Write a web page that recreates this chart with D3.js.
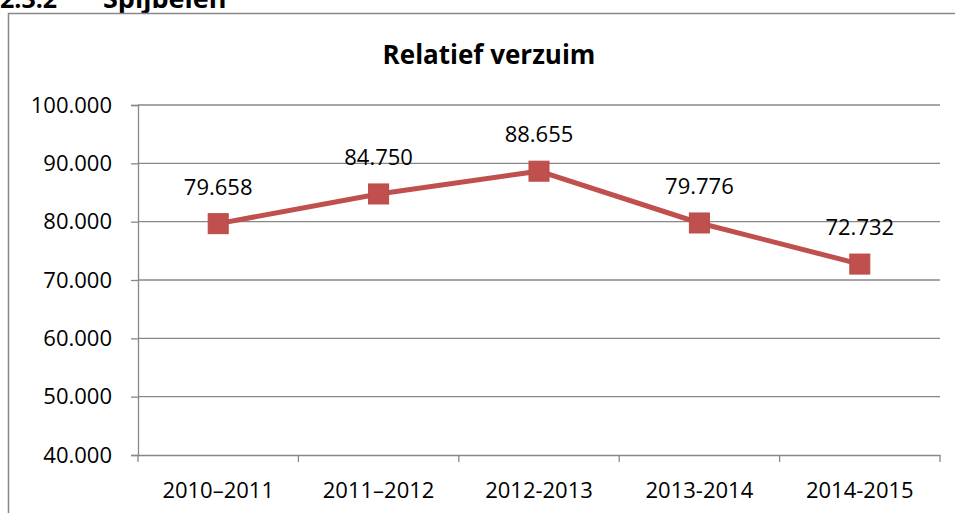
<!DOCTYPE html>
<html>
<head>
<meta charset="utf-8">
<script src="https://cdn.jsdelivr.net/npm/d3@7"></script>
<style>
  body { margin: 0; background: #fff; }
  svg { display: block; }
</style>
</head>
<body>
<div id="chart"></div>
<script>
// data
var seasons = ["2010–2011", "2011–2012", "2012-2013", "2013-2014", "2014-2015"];
var verzuim = [79.658, 84.75, 88.655, 79.776, 72.732];
var yTicks = [40, 50, 60, 70, 80, 90, 100];

var W = 955, H = 513;
var font = "'Open Sans', 'Noto Sans', sans-serif";

var svg = d3.select("#chart")
  .append("svg")
  .attr("width", W)
  .attr("height", H);

// section heading, cut off at the top
svg.append("text")
  .attr("x", 0)
  .attr("y", 8)
  .attr("font-family", font)
  .attr("font-weight", "bold")
  .attr("font-size", 25)
  .attr("fill", "#000")
  .text("2.3.2");
svg.append("text")
  .attr("x", 103)
  .attr("y", 8)
  .attr("font-family", font)
  .attr("font-weight", "bold")
  .attr("font-size", 27)
  .attr("fill", "#000")
  .text("Spijbelen");

// chart border
svg.append("rect")
  .attr("x", 8.5)
  .attr("y", 13.5)
  .attr("width", 960)
  .attr("height", 520)
  .attr("fill", "none")
  .attr("stroke", "#888")
  .attr("stroke-width", 1.5);

// title
svg.append("text")
  .attr("x", 489)
  .attr("y", 64)
  .attr("text-anchor", "middle")
  .attr("font-family", font)
  .attr("font-weight", "bold")
  .attr("font-size", 26)
  .text("Relatief verzuim");

var margin = { left: 138, right: 15, top: 105, bottom: 58 };
var plotW = W - margin.left - margin.right,
  plotH = H - margin.top - margin.bottom;

var g = svg.append("g")
  .attr("transform", "translate(" + margin.left + "," + margin.top + ")");

var x = d3.scaleBand().domain(seasons).range([0, plotW]);
var y = d3.scaleLinear().domain([40, 100]).range([plotH, 0]);

// gridlines
g.selectAll(".grid")
  .data(yTicks.slice(1))
  .enter()
  .append("line")
  .attr("x1", 0)
  .attr("x2", plotW)
  .attr("y1", function (d) { return y(d); })
  .attr("y2", function (d) { return y(d); })
  .attr("stroke", "#888")
  .attr("stroke-width", 1.3);

// y axis
var yAxis = g.append("g")
  .call(d3.axisLeft(y).tickValues(yTicks).tickSize(7)
    .tickFormat(function (d) { return d3.format(".3f")(d); }));
yAxis.select(".domain").attr("stroke", "#888").attr("stroke-width", 1.3);
yAxis.selectAll(".tick line").attr("stroke", "#888").attr("stroke-width", 1.3);
yAxis.selectAll(".tick text")
  .attr("font-family", font)
  .attr("font-size", 22)
  .attr("fill", "#000")
  .attr("x", -26);

// x axis
var xAxis = g.append("g")
  .attr("transform", "translate(0," + plotH + ")")
  .call(d3.axisBottom(x).tickSize(0).tickPadding(27));
xAxis.select(".domain").attr("stroke", "#888").attr("stroke-width", 1.3);
xAxis.selectAll(".tick text")
  .attr("font-family", font)
  .attr("font-size", 22)
  .attr("fill", "#000");

// category boundary ticks
var bounds = seasons.map(function (s) { return x(s); }).concat([plotW]);
xAxis.selectAll(".bound")
  .data(bounds)
  .enter()
  .append("line")
  .attr("x1", function (d) { return d; })
  .attr("x2", function (d) { return d; })
  .attr("y1", 0)
  .attr("y2", 7)
  .attr("stroke", "#888")
  .attr("stroke-width", 1.3);

var cx = function (d, i) { return x(seasons[i]) + x.bandwidth() / 2; };

// line
var line = d3.line()
  .x(function (d, i) { return cx(d, i); })
  .y(function (d) { return y(d); });

g.append("path")
  .datum(verzuim)
  .attr("d", line)
  .attr("fill", "none")
  .attr("stroke", "#C0504D")
  .attr("stroke-width", 5);

// markers
var s = 20;
g.selectAll(".marker")
  .data(verzuim)
  .enter()
  .append("rect")
  .attr("x", function (d, i) { return cx(d, i) - s / 2; })
  .attr("y", function (d) { return y(d) - s / 2; })
  .attr("width", s)
  .attr("height", s)
  .attr("fill", "#C0504D")
  .attr("stroke", "#B84A47")
  .attr("stroke-width", 1);

// data labels
g.selectAll(".lbl")
  .data(verzuim)
  .enter()
  .append("text")
  .attr("x", function (d, i) { return cx(d, i); })
  .attr("y", function (d) { return y(d) - 29; })
  .attr("text-anchor", "middle")
  .attr("font-family", font)
  .attr("font-size", 22)
  .attr("fill", "#000")
  .text(function (d) { return d3.format(".3f")(d); });
</script>
</body>
</html>
